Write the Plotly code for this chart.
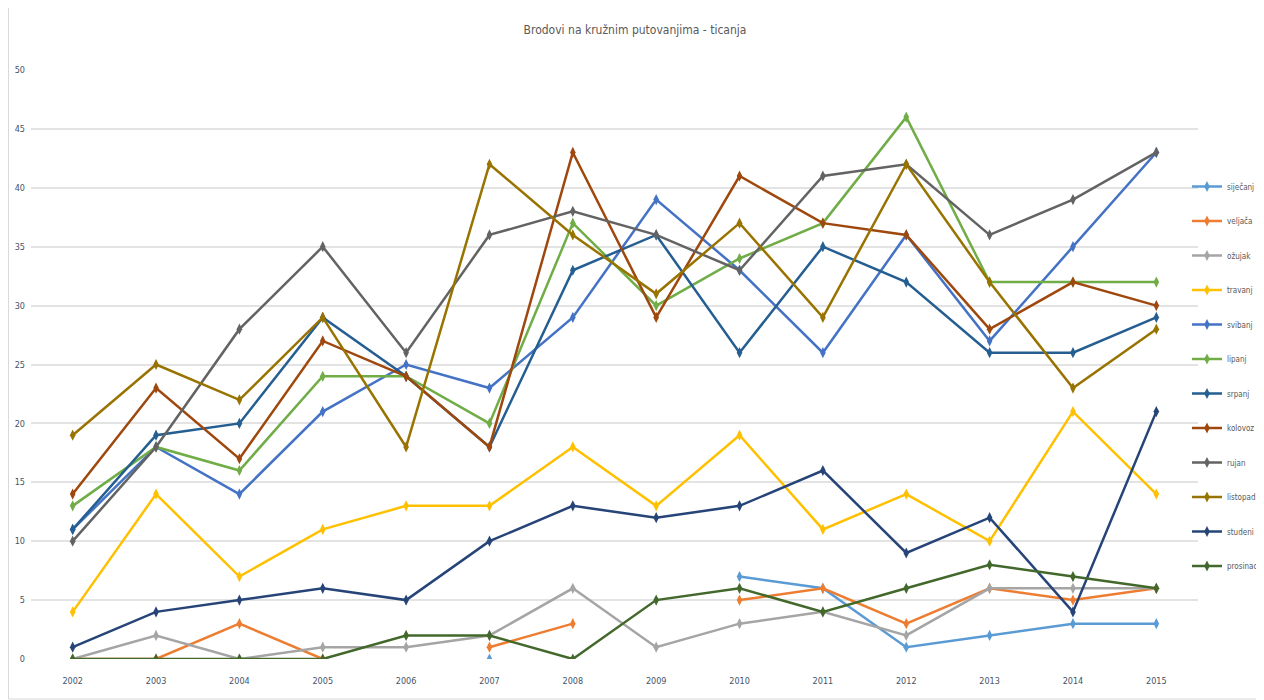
import plotly.graph_objects as go

years = [2002, 2003, 2004, 2005, 2006, 2007, 2008, 2009, 2010, 2011, 2012, 2013, 2014, 2015]

sijecanj = [None, None, None, None, None, 0, None, None, 7, 6, 1, 2, 3, 3]
veljaca  = [0, 0, 3, 0, None, 1, 3, None, 5, 6, 3, 6, 5, 6]
ozujak   = [0, 2, 0, 1, 1, 2, 6, 1, 3, 4, 2, 6, 6, 6]
travanj  = [4, 14, 7, 11, 13, 13, 18, 13, 19, 11, 14, 10, 21, 14]
svibanj  = [11, 18, 14, 21, 25, 23, 29, 39, 33, 26, 36, 27, 35, 43]
lipanj   = [13, 18, 16, 24, 24, 20, 37, 30, 34, 37, 46, 32, 32, 32]
srpanj   = [11, 19, 20, 29, 24, 18, 33, 36, 26, 35, 32, 26, 26, 29]
kolovoz  = [14, 23, 17, 27, 24, 18, 43, 29, 41, 37, 36, 28, 32, 30]
rujan    = [10, 18, 28, 35, 26, 36, 38, 36, 33, 41, 42, 36, 39, 43]
listopad = [19, 25, 22, 29, 18, 42, 36, 31, 37, 29, 42, 32, 23, 28]
studeni  = [1, 4, 5, 6, 5, 10, 13, 12, 13, 16, 9, 12, 4, 21]
prosinac = [0, 0, 0, 0, 2, 2, 0, 5, 6, 4, 6, 8, 7, 6]

series_names = ["siječanj", "veljača", "ožujak", "travanj", "svibanj", "lipanj",
                "srpanj", "kolovoz", "rujan", "listopad", "studeni", "prosinac"]
series_values = [sijecanj, veljaca, ozujak, travanj, svibanj, lipanj,
                 srpanj, kolovoz, rujan, listopad, studeni, prosinac]
colors = ["#5B9BD5", "#ED7D31", "#A5A5A5", "#FFC000", "#4472C4", "#70AD47",
          "#255E91", "#9E480E", "#636363", "#997300", "#264478", "#43682B"]

FONT = "DejaVu Sans Condensed, Liberation Sans, sans-serif"

# page body has an 8px margin: figure is sized/positioned to compensate
W, H = 1256, 692
L, R, T, B = 23, 66, 62, 41
PW, PH = W - L - R, H - T - B

fig = go.Figure()
for name, vals, col in zip(series_names, series_values, colors):
    fig.add_trace(go.Scatter(
        x=years, y=vals, name=name, mode="lines+markers",
        line=dict(color=col, width=2.5),
        marker=dict(symbol="diamond-tall", size=8, color=col),
        connectgaps=False, legendgroup=name,
    ))

fig.update_layout(
    width=W, height=H,
    margin=dict(l=L, r=R, t=T, b=B, autoexpand=False),
    paper_bgcolor="white", plot_bgcolor="white",
    font=dict(family=FONT, color="#595959", size=9),
    title=dict(text="Brodovi na kružnim putovanjima - ticanja",
               x=627 / W, xanchor="center", y=1 - 22 / H, yanchor="middle",
               font=dict(family=FONT, size=12, color="#595959")),
    showlegend=True,
    legend=dict(x=(1179 - L) / PW, xanchor="left", y=(PH + T - 164) / PH, yanchor="top",
                font=dict(family=FONT, size=8, color="#595959"),
                tracegroupgap=15.5, itemwidth=30, bgcolor="rgba(0,0,0,0)"),
    xaxis=dict(range=[2001.5, 2015.5], tickmode="array", tickvals=years,
               ticktext=[str(y) for y in years], showgrid=False, zeroline=False,
               showline=False, ticks="", tickfont=dict(size=9, color="#44546A"),
               ticklabelstandoff=15, automargin=False),
    yaxis=dict(range=[0, 50], dtick=5, showgrid=True, gridcolor="#E3E3E3", gridwidth=2,
               zeroline=False, showline=False, ticks="",
               tickfont=dict(size=9, color="#44546A"), ticklabelstandoff=5, automargin=False),
)

fig.add_shape(type="rect", xref="paper", yref="paper",
              x0=(0.5 - L) / PW, x1=(1254 - L) / PW,
              y0=(PH + T - 691) / PH, y1=(PH + T + 2) / PH,
              line=dict(color="#D9D9D9", width=1), layer="below")

fig.write_html("out.html")
